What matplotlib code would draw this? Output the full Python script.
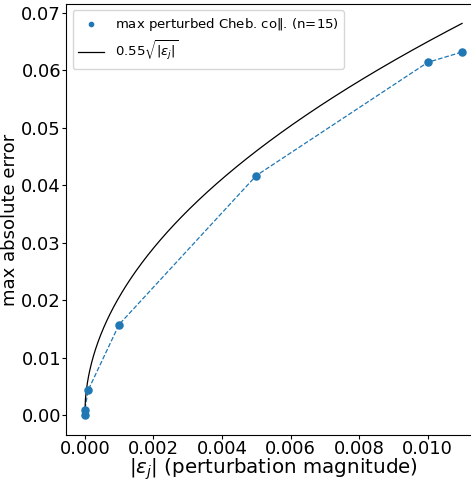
import numpy as np
import matplotlib.pyplot as plt

# Datos
eps = [0.0, 1e-6, 1e-4, 1e-3, 5e-3, 1e-2, 1.1e-2]
err = [0.0, 0.0010, 0.0044, 0.0158, 0.0417, 0.0614, 0.0632]
coef_label = 0.55
coef_curve = 0.65  # la curva dibujada sube más que el rótulo

x_curve = np.linspace(0, max(eps), 600)
y_curve = coef_curve * np.sqrt(x_curve)

fig = plt.figure(figsize=(4.71, 4.79), dpi=100)
ax = fig.add_axes([0.140, 0.092, 0.881, 0.900])

ax.scatter(eps, err, color='C0', s=26, zorder=3, label='max perturbed Cheb. co$\\|$. (n=15)')
ax.plot(eps, err, color='C0', linestyle='--', linewidth=0.9)
ax.plot(x_curve, y_curve, color='black', linewidth=0.9,
        label=f'{coef_label}' + r'$\sqrt{|\varepsilon_j|}$')

ax.set_xticks(np.arange(0, 0.0101, 0.002))
ax.set_yticks(np.arange(0, 0.0701, 0.01))
ax.tick_params(labelsize=13, length=3, pad=0.5)
ax.set_xlabel(r'$|\varepsilon_j|$ (perturbation magnitude)', fontsize=14.3, labelpad=-1)
ax.set_ylabel('max absolute error', fontsize=13, labelpad=2)

ax.legend(loc='upper left', fontsize=9.5, markerscale=0.6)

fig.savefig('out.png', dpi=100)
